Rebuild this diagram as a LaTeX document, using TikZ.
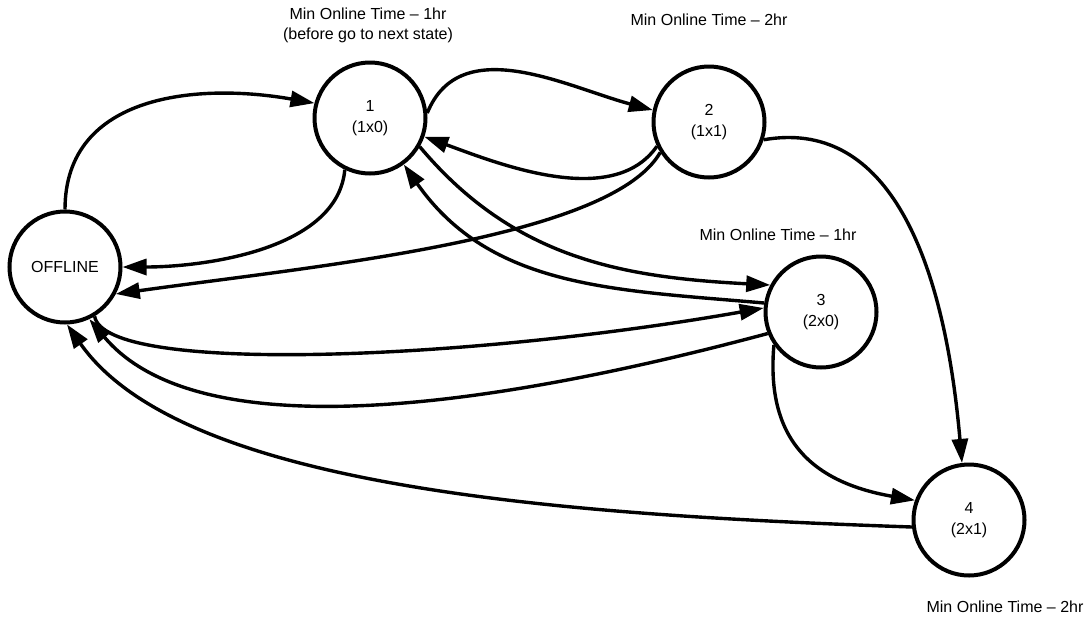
\documentclass[tikz,border=0pt]{standalone}
\usepackage{fontspec}
\setmainfont{Liberation Sans}
\usepackage{tikz}
\usetikzlibrary{
  arrows.meta,
  positioning
}

\tikzset{
  stnode/.style={draw, circle, line width=4pt, minimum size=111pt, inner sep=0pt,
    align=center, font=\fontsize{16}{21}\selectfont},
  trans/.style={line width=3.4pt, -{Triangle[length=24pt,width=16pt]}},
  mintime/.style={align=center, font=\fontsize{16}{20}\selectfont}
}

\begin{document}
\begin{tikzpicture}[x=1pt, y=1pt]
  \useasboundingbox (0,0) rectangle (1092,-627);

  \foreach \nm/\x/\y/\txt in {
    off/65/267/{OFFLINE},
    n1/370/118/{1\\(1x0)},
    n2/709/122/{2\\(1x1)},
    n3/821/312/{3\\(2x0)},
    n4/969/520/{4\\(2x1)}}{
    \node[stnode] (\nm) at (\x,-\y) {\txt};
  }

  \node[mintime] (t1) at (368,-25) {Min Online Time -- 1hr\\(before go to next state)};
  \node[mintime] (t2) at (709,-20) {Min Online Time -- 2hr};
  \node[mintime] (t3) at (778,-235) {Min Online Time -- 1hr};
  \node[mintime] (t4) at (1005,-607) {Min Online Time -- 2hr};

  \draw[trans] (off.north) to[out=90, in=170, looseness=1.1] (n1.165);
  \draw[trans] (n1.5) to[out=68, in=165] (n2.168);
  \draw[trans] (n2.205) to[out=235, in=-20, looseness=0.85] (n1.-19);
  \draw[trans] (n2.212) to[out=240, in=8, out distance=100pt, in distance=200pt] (off.-28);
  \draw[trans] (n1.244) to[out=265, in=0, looseness=0.85] (off.0);
  \draw[trans] (n1.-30) to[out=-50, in=177] (n3.152);
  \draw[trans] (n3.171) to[out=175, in=-55] (n1.-54);
  \draw[trans] (off.-59) to[out=-80, in=190, out distance=60pt, in distance=300pt] (n3.176);
  \draw[trans] (n3.202) to[out=195, in=-50, out distance=250pt, in distance=180pt] (off.-65);
  \draw[trans] (n4.187) to[out=178, in=-55, out distance=350pt, in distance=200pt] (off.-88);
  \draw[trans] (n2.-18) to[out=10, in=95, out distance=120pt, in distance=220pt] (n4.97);
  \draw[trans] (n3.215) to[out=-95, in=170, out distance=90pt, in distance=110pt] (n4.160);
\end{tikzpicture}
\end{document}
